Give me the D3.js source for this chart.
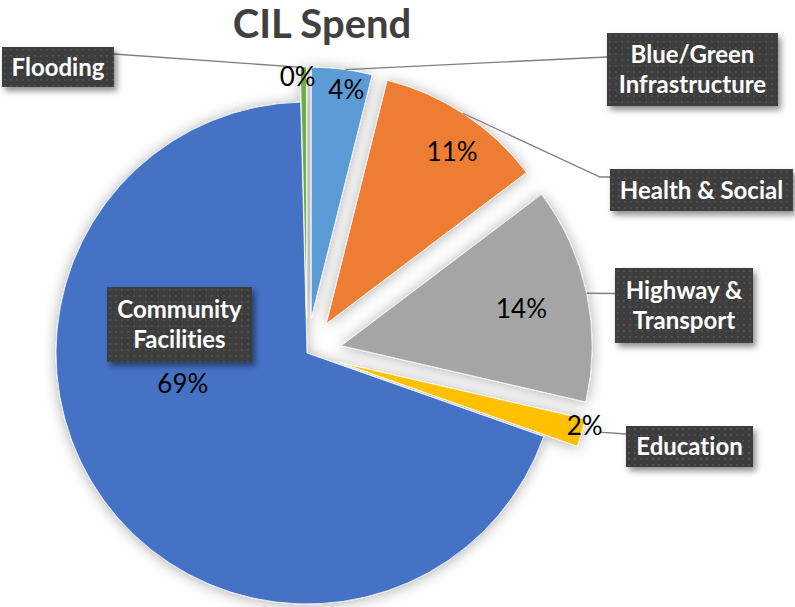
<!DOCTYPE html>
<html>
<head>
<meta charset="utf-8">
<script src="https://cdn.jsdelivr.net/npm/d3@7/dist/d3.min.js"></script>
<style>
  html, body { margin: 0; padding: 0; background: #fff; }
  svg { display: block; }
  text { font-variant-ligatures: none; font-feature-settings: "liga" 0, "dlig" 0; }
</style>
</head>
<body>
<svg id="chart" width="795" height="607"></svg>
<script>
// Data: share of CIL spend (percent), in pie order starting at 12 o'clock
const categories = ["Blue/Green Infrastructure", "Health & Social", "Highway & Transport",
                    "Education", "Community Facilities", "Flooding"];
const values = [3.9, 10.8, 13.9, 1.8, 69.2, 0.4];
const colors = ["#5B9BD5", "#ED7D31", "#A5A5A5", "#FFC000", "#4472C4", "#70AD47"];

// Layout config
const width = 795, height = 607;
const cx = 307, cy = 353, radius = 251;
const explode = [35, 35, 35, 35, 0, 35];
// percent labels: radius from slice apex + angle nudge (degrees)
const pctPlace = [[231, 1.7], [213, 2.7], [184, 0.5], [252, -1.7], [128, 22], [241, -1.4]];
// callout boxes
const callouts = [
  { lines: ["Blue/Green", "Infrastructure"], x: 607, y: 33, w: 171, h: 73,
    leader: { r: 251, da: 0.8, side: "left", dy: 24 } },
  { lines: ["Health & Social"], x: 610, y: 169, w: 183, h: 42,
    leader: { r: 251, da: -0.5, side: "left", dy: 8, elbow: 600 } },
  { lines: ["Highway &", "Transport"], x: 615, y: 268, w: 138, h: 75,
    leader: { r: 251, da: 0, side: "left", dy: 25.5 } },
  { lines: ["Education"], x: 626, y: 426, w: 127, h: 41,
    leader: { r: 268, da: -1.2, side: "left", dy: 8 } },
  { lines: ["Community", "Facilities"], x: 107, y: 287, w: 145, h: 75, leader: null },
  { lines: ["Flooding"], x: 2, y: 47, w: 112, h: 40,
    leader: { r: 251, da: -1.2, side: "right", dy: 7 } }
];

const svg = d3.select("#chart");
const defs = svg.append("defs");

const sliceShadow = defs.append("filter").attr("id", "sliceShadow")
  .attr("x", "-20%").attr("y", "-20%").attr("width", "140%").attr("height", "140%");
sliceShadow.append("feDropShadow").attr("dx", 0).attr("dy", 1)
  .attr("stdDeviation", 7).attr("flood-color", "#000").attr("flood-opacity", 0.32);

const boxShadow = defs.append("filter").attr("id", "boxShadow")
  .attr("x", "-20%").attr("y", "-30%").attr("width", "150%").attr("height", "170%");
boxShadow.append("feDropShadow").attr("dx", 3).attr("dy", 4)
  .attr("stdDeviation", 3).attr("flood-color", "#000").attr("flood-opacity", 0.45);

const dots = defs.append("pattern").attr("id", "dots").attr("patternUnits", "userSpaceOnUse")
  .attr("width", 6).attr("height", 6);
dots.append("rect").attr("width", 6).attr("height", 6).attr("fill", "#3d3d3d");
dots.append("circle").attr("cx", 3).attr("cy", 3).attr("r", 0.9).attr("fill", "#565656");

const rows = categories.map((c, i) => ({ name: c, value: values[i], color: colors[i], explode: explode[i] }));
const total = d3.sum(values);

const pie = d3.pie().sort(null).value(d => d.value).startAngle(0).endAngle(2 * Math.PI);
const arcs = pie(rows);
const arc = d3.arc().innerRadius(0).outerRadius(radius);

const rad = deg => deg * Math.PI / 180;
const polar = (r, a) => [r * Math.sin(a), -r * Math.cos(a)];
const apex = d => {
  const mid = (d.startAngle + d.endAngle) / 2;
  const o = polar(d.data.explode, mid);
  return [cx + o[0], cy + o[1]];
};

// Title
svg.append("text")
  .attr("x", 322).attr("y", 38)
  .attr("text-anchor", "middle")
  .style("font-family", "Lato, 'Open Sans', sans-serif")
  .style("font-weight", 700).style("font-size", "40px")
  .attr("fill", "#404040")
  .text("CIL Spend");

// Slices
const sliceG = svg.append("g").attr("filter", "url(#sliceShadow)");
sliceG.selectAll("path")
  .data(arcs)
  .join("path")
  .attr("transform", d => `translate(${apex(d)})`)
  .attr("d", arc)
  .attr("fill", d => d.data.color)
  .attr("stroke", "#fff")
  .attr("stroke-width", 0.8);

// Leader lines
const leaderG = svg.append("g");
arcs.forEach((d, i) => {
  const c = callouts[i];
  if (!c.leader) return;
  const L = c.leader;
  const a = (d.startAngle + d.endAngle) / 2 + rad(L.da);
  const p = apex(d);
  const s = polar(L.r, a);
  const start = [p[0] + s[0], p[1] + s[1]];
  const endX = L.side === "left" ? c.x : c.x + c.w;
  const endY = c.y + L.dy;
  const pts = [start];
  if (L.elbow) pts.push([L.elbow, endY]);
  pts.push([endX, endY]);
  leaderG.append("path")
    .attr("d", d3.line()(pts))
    .attr("fill", "none")
    .attr("stroke", "#7f7f7f")
    .attr("stroke-width", 1.3);
});

// Percent labels
svg.append("g").selectAll("text")
  .data(arcs)
  .join("text")
  .attr("transform", (d, i) => {
    const p = apex(d);
    const a = (d.startAngle + d.endAngle) / 2 + rad(pctPlace[i][1]);
    const o = polar(pctPlace[i][0], a);
    return `translate(${p[0] + o[0]},${p[1] + o[1]})`;
  })
  .attr("text-anchor", "middle")
  .attr("dy", "0.35em")
  .style("font-family", "Lato, 'Open Sans', sans-serif")
  .style("font-size", "26px")
  .attr("fill", "#000")
  .text(d => d3.format(".0%")(d.data.value / total));

// Category boxes
const boxG = svg.append("g").selectAll("g")
  .data(callouts)
  .join("g")
  .attr("transform", c => `translate(${c.x},${c.y})`);
boxG.append("rect")
  .attr("width", c => c.w).attr("height", c => c.h)
  .attr("fill", "url(#dots)")
  .attr("filter", "url(#boxShadow)");
boxG.each(function (c) {
  const g = d3.select(this);
  const lh = 30;
  const n = c.lines.length;
  c.lines.forEach((t, j) => {
    g.append("text")
      .attr("x", c.w / 2)
      .attr("y", c.h / 2 + (j - (n - 1) / 2) * lh)
      .attr("dy", "0.36em")
      .attr("text-anchor", "middle")
      .style("font-family", "Lato, 'Open Sans', sans-serif")
      .style("font-weight", 700).style("font-size", "24px")
      .attr("fill", "#fff")
      .text(t);
  });
});
</script>
</body>
</html>
